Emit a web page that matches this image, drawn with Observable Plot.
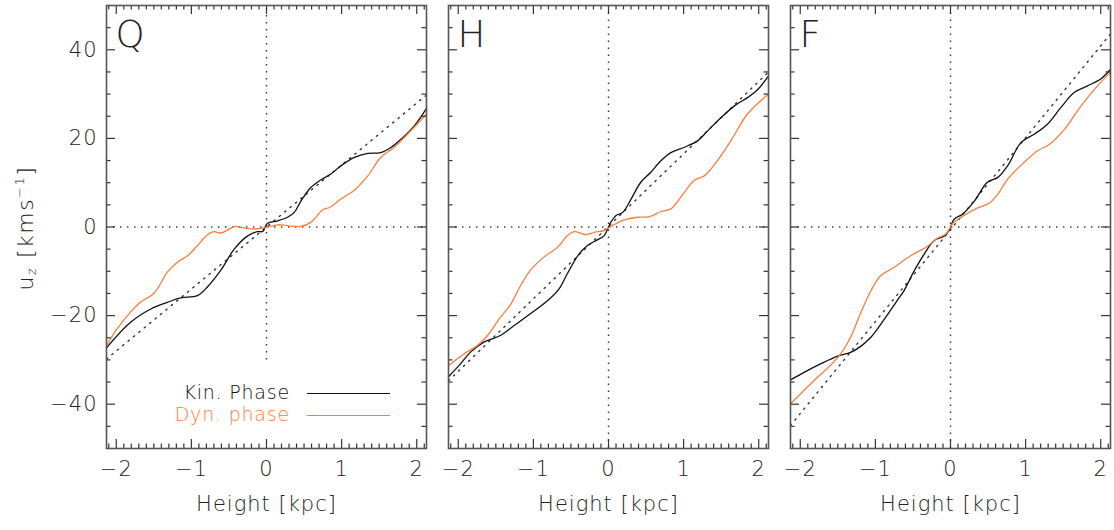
<!DOCTYPE html>
<html>
<head>
<meta charset="utf-8">
<script src="https://cdn.jsdelivr.net/npm/d3@7"></script>
<script src="https://cdn.jsdelivr.net/npm/@observablehq/plot@0.6"></script>
<style>
  body { margin: 0; background: #fff; }
  #wrap { position: relative; width: 1114px; height: 530px; overflow: hidden; font-family: "DejaVu Sans", sans-serif; font-weight: 200; color: #222; }
  .panel { position: absolute; top: 0; }
  .panel text { letter-spacing: 1px; }
  .ylab { position: absolute; left: 25px; top: 228px; transform: translate(-50%, -50%) rotate(-90deg); font-size: 22px; letter-spacing: 1.5px; white-space: nowrap; }
  .ylab sub { font-size: 13px; vertical-align: -3px; }
  .ylab sup { font-size: 13px; vertical-align: 9px; }
  .leg { position: absolute; font-size: 19px; letter-spacing: 0.8px; white-space: nowrap; }
  .legline { position: absolute; height: 0; }
</style>
</head>
<body>
<div id="wrap"></div>
<script>
// ---------- data ----------
const xLimits = [-2.13, 2.13];
const yLimits = [-50, 50];
const xTickLabels = [-2, -1, 0, 1, 2];
const yTickLabels = [-40, -20, 0, 20, 40];
const panelLetters = ["Q", "H", "F"];

// reference (dotted) lines: endpoints [x, y]
const Q_ref = [[-2.13, -29.8], [2.13, 29.8]];
const H_ref = [[-2.13, -34.7], [2.13, 35.0]];
const F_ref = [[-2.13, -44.8], [2.13, 43.6]];

// vertical dotted line extents [y1, y2]
const vlineExtent = [[-30, 50], [-50, 50], [-50, 50]];

const Q_kin = [[-2.13,-27.3],[-1.81,-21.5],[-1.54,-18.5],[-1.32,-17.0],[-1.14,-16.0],[-0.92,-15.5],[-0.79,-13.6],[-0.61,-9.8],[-0.43,-5.0],[-0.25,-2.0],[-0.12,-1.05],[-0.05,-1.0],[0.01,0.8],[0.15,1.4],[0.28,2.2],[0.37,3.3],[0.46,5.9],[0.59,8.9],[0.72,10.6],[0.86,12.0],[0.99,13.8],[1.17,15.7],[1.35,16.6],[1.52,16.8],[1.66,18.0],[1.79,19.8],[1.97,22.9],[2.13,26.8]];
const Q_dyn = [[-2.13,-26.8],[-1.99,-23.0],[-1.85,-20.0],[-1.68,-17.0],[-1.50,-15.0],[-1.32,-10.2],[-1.19,-8.0],[-1.05,-6.5],[-0.92,-4.2],[-0.79,-1.8],[-0.70,-1.05],[-0.61,-1.35],[-0.52,-0.7],[-0.43,0.1],[-0.30,-0.2],[-0.16,-0.45],[-0.03,-0.2],[0.15,0.5],[0.28,0.3],[0.46,0.15],[0.59,1.05],[0.75,3.9],[0.84,4.4],[0.99,6.3],[1.17,8.3],[1.35,11.6],[1.52,15.7],[1.70,18.0],[1.88,21.0],[2.13,25.5]];

const H_kin = [[-2.13,-33.8],[-1.97,-30.9],[-1.84,-28.3],[-1.66,-26.0],[-1.44,-24.5],[-1.26,-22.3],[-1.04,-19.6],[-0.81,-16.6],[-0.66,-14.0],[-0.55,-10.6],[-0.41,-6.5],[-0.28,-4.2],[-0.15,-2.9],[-0.06,-2.0],[0.03,1.05],[0.10,2.6],[0.19,3.3],[0.30,6.3],[0.43,10.1],[0.56,12.3],[0.70,15.0],[0.83,16.8],[1.01,18.0],[1.19,19.5],[1.32,21.7],[1.50,24.7],[1.68,27.4],[1.85,29.2],[1.99,31.1],[2.13,34.1]];
const H_dyn = [[-2.13,-31.3],[-1.92,-28.6],[-1.75,-26.8],[-1.61,-24.5],[-1.44,-20.4],[-1.30,-17.4],[-1.17,-13.2],[-1.04,-9.8],[-0.86,-6.8],[-0.68,-4.6],[-0.55,-2.0],[-0.46,-1.05],[-0.30,-1.7],[-0.19,-1.2],[-0.06,-0.8],[0.05,0.3],[0.21,1.6],[0.39,2.2],[0.54,2.3],[0.70,3.5],[0.83,4.1],[0.96,6.7],[1.14,10.5],[1.28,11.6],[1.45,15.0],[1.63,19.5],[1.85,25.5],[2.13,30.0]];

const F_kin = [[-2.13,-34.5],[-1.95,-32.8],[-1.73,-30.9],[-1.51,-29.2],[-1.33,-28.3],[-1.20,-27.0],[-1.06,-24.9],[-0.88,-20.8],[-0.71,-16.6],[-0.62,-14.4],[-0.48,-9.8],[-0.35,-6.1],[-0.22,-3.1],[-0.08,-2.0],[-0.02,-0.8],[0.05,1.8],[0.16,2.9],[0.32,5.9],[0.49,10.1],[0.63,11.2],[0.76,13.8],[0.94,19.1],[1.12,21.0],[1.29,23.2],[1.47,27.0],[1.65,30.4],[1.83,31.9],[2.00,33.4],[2.13,35.6]];
const F_dyn = [[-2.13,-39.9],[-1.95,-36.9],[-1.77,-33.9],[-1.60,-31.3],[-1.46,-28.6],[-1.33,-24.9],[-1.20,-19.6],[-1.06,-14.4],[-0.93,-11.0],[-0.75,-9.1],[-0.53,-6.5],[-0.31,-4.4],[-0.17,-2.5],[-0.06,-1.6],[0.03,0.8],[0.18,2.6],[0.36,4.3],[0.52,5.4],[0.63,7.4],[0.76,10.8],[0.98,14.6],[1.16,17.2],[1.32,18.7],[1.52,22.1],[1.74,27.4],[1.96,31.9],[2.13,34.9]];

const legendLabels = ["Kin. Phase", "Dyn. phase"];
// ---------------------------------------------------

const KIN = "#111111", DYN = "#fb7d3d", INK = "#333333";
const FONT = '"DejaVu Sans", sans-serif';
const xMinor = d3.range(-21, 22).map(d => d / 10).filter(d => Math.round(d * 10) % 10 !== 0);
const yMinor = d3.range(-45, 50, 5).filter(d => d % 20 !== 0);
const H = 530, MT = 5, MB = 82, FH = H - MT - MB;

const layouts = [
  {left: 0, width: 440, ml: 106, mr: 14},
  {left: 440, width: 340, ml: 8, mr: 12},
  {left: 780, width: 334, ml: 10, mr: 4}
];
const series = [[Q_kin, Q_dyn, Q_ref], [H_kin, H_dyn, H_ref], [F_kin, F_dyn, F_ref]];
const wrap = document.getElementById("wrap");
const dots = {stroke: INK, strokeWidth: 1.4, strokeDasharray: "1.4,5.6"};

series.forEach(([kin, dyn, ref], i) => {
  const L = layouts[i];
  const FW = L.width - L.ml - L.mr;
  const tx = (ticks, len) => [
    Plot.tickX(ticks, {x: d => d, insetTop: FH - len, stroke: INK, strokeWidth: 1.2}),
    Plot.tickX(ticks, {x: d => d, insetBottom: FH - len, stroke: INK, strokeWidth: 1.2})
  ];
  const ty = (ticks, len) => [
    Plot.tickY(ticks, {y: d => d, insetRight: FW - len, stroke: INK, strokeWidth: 1.2}),
    Plot.tickY(ticks, {y: d => d, insetLeft: FW - len, stroke: INK, strokeWidth: 1.2})
  ];
  const chart = Plot.plot({
    width: L.width, height: H,
    marginLeft: L.ml, marginRight: L.mr, marginTop: MT, marginBottom: MB,
    x: {domain: xLimits, axis: null},
    y: {domain: yLimits, axis: null},
    style: {fontFamily: FONT, fontSize: "21px", color: "#222", background: "transparent", overflow: "visible", fontWeight: 200},
    marks: [
      Plot.ruleY([0], dots),
      Plot.ruleX([0], {y1: vlineExtent[i][0], y2: vlineExtent[i][1], ...dots}),
      Plot.line(ref, {x: d => d[0], y: d => d[1], ...dots}),
      Plot.line(kin, {x: d => d[0], y: d => d[1], stroke: KIN, strokeWidth: 1.3, curve: "catmull-rom"}),
      Plot.line(dyn, {x: d => d[0], y: d => d[1], stroke: DYN, strokeWidth: 1.3, curve: "catmull-rom"}),
      ...tx(xMinor, 4.5), ...tx(xTickLabels, 9),
      ...ty(yMinor, 4.5), ...ty(yTickLabels, 9),
      Plot.frame({stroke: "#555", strokeWidth: 1.6}),
      Plot.axisX(xTickLabels, {tickSize: 0, tickPadding: 13, fontSize: 21, label: "Height [kpc]", labelAnchor: "center", labelOffset: 62, labelArrow: "none"}),
      ...(i === 0 ? [Plot.axisY(yTickLabels, {tickSize: 0, tickPadding: 9, fontSize: 21, label: null})] : []),
      Plot.text([panelLetters[i]], {frameAnchor: "top-left", dx: 9, dy: 15, fontSize: 37, textAnchor: "start", lineAnchor: "top", fill: "#222"})
    ]
  });
  chart.classList.add("panel");
  chart.style.left = L.left + "px";
  wrap.appendChild(chart);
});

// y-axis title
const yl = document.createElement("div");
yl.className = "ylab";
yl.innerHTML = "u<sub>z</sub> [kms<sup>−1</sup>]";
wrap.appendChild(yl);

// legend
[[legendLabels[0], KIN, 393], [legendLabels[1], DYN, 415]].forEach(([t, c, y]) => {
  const d = document.createElement("div");
  d.className = "leg";
  d.textContent = t;
  d.style.color = c;
  d.style.right = (1114 - 290) + "px";
  d.style.top = (y - 12) + "px";
  wrap.appendChild(d);
  const l = document.createElement("div");
  l.className = "legline";
  l.style.left = "307px";
  l.style.width = "83px";
  l.style.top = y + "px";
  l.style.borderTop = `1.3px solid ${c}`;
  wrap.appendChild(l);
});
</script>
</body>
</html>
